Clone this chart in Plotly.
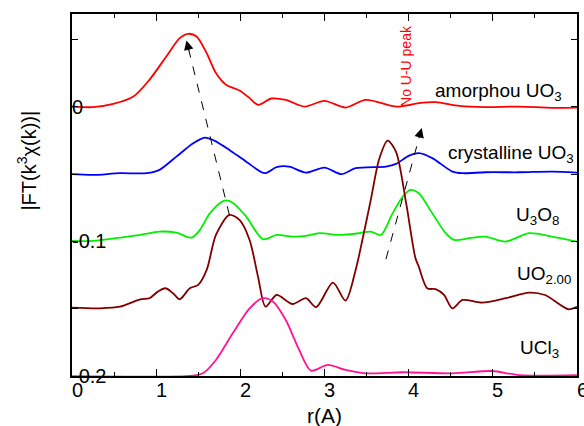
import plotly.graph_objects as go

# ---- data ----
r_amorph = [0.0, 0.25, 0.49, 0.73, 0.92, 1.12, 1.28, 1.38, 1.48, 1.60, 1.71, 1.83, 1.99, 2.11, 2.21,
            2.37, 2.54, 2.76, 3.00, 3.25, 3.49, 3.86, 4.12, 4.32, 4.60, 4.91, 5.31, 5.70, 6.0]
ft_amorph = [0.0002, -0.0002, 0.0022, 0.0077, 0.0201, 0.0374, 0.0511, 0.0543, 0.0523, 0.0399, 0.0251,
             0.0164, 0.0121, 0.0065, 0.0015, 0.0062, 0.0052, 0.0002, 0.0045, -0.0005, 0.0052, 0.0002,
             0.0028, 0.0035, 0.0007, -0.0002, 0.0002, -0.0007, -0.0005]

r_cryst = [0.0, 0.25, 0.57, 0.89, 1.04, 1.24, 1.44, 1.58, 1.69, 1.87, 2.07, 2.29, 2.43, 2.58, 2.78,
           3.00, 3.20, 3.37, 3.73, 3.85, 4.00, 4.12, 4.28, 4.52, 4.64, 4.91, 5.31, 5.70, 6.0]
ft_cryst = [-0.0500, -0.0506, -0.0493, -0.0493, -0.0468, -0.0370, -0.0270, -0.0228, -0.0251, -0.0320,
            -0.0407, -0.0493, -0.0448, -0.0444, -0.0488, -0.0451, -0.0500, -0.0456, -0.0444, -0.0424,
            -0.0364, -0.0344, -0.0381, -0.0481, -0.0493, -0.0486, -0.0486, -0.0481, -0.0488]

r_u3o8 = [0.0, 0.25, 0.57, 0.81, 1.04, 1.24, 1.42, 1.52, 1.64, 1.81, 1.91, 2.07, 2.27, 2.43, 2.62,
          2.78, 2.94, 3.18, 3.41, 3.55, 3.67, 3.81, 3.93, 4.02, 4.12, 4.28, 4.44, 4.54, 4.72, 4.91,
          5.15, 5.43, 5.70, 6.0]
ft_u3o8 = [-0.0996, -0.0996, -0.0972, -0.0952, -0.0927, -0.0935, -0.0972, -0.0914, -0.0790, -0.0697,
           -0.0712, -0.0816, -0.0984, -0.0952, -0.0964, -0.0959, -0.0939, -0.0952, -0.0939, -0.0927,
           -0.0952, -0.0790, -0.0667, -0.0617, -0.0642, -0.0790, -0.0939, -0.0989, -0.0976, -0.0964,
           -0.1001, -0.0939, -0.0964, -0.1001]

r_uo2 = [0.0, 0.33, 0.57, 0.81, 0.92, 1.02, 1.11, 1.20, 1.28, 1.40, 1.50, 1.60, 1.71, 1.87, 1.99,
         2.11, 2.21, 2.30, 2.43, 2.62, 2.78, 2.90, 3.10, 3.25, 3.37, 3.45, 3.55, 3.65, 3.75, 3.85,
         3.97, 4.08, 4.12, 4.22, 4.32, 4.42, 4.52, 4.64, 4.87, 5.15, 5.43, 5.62, 5.90, 6.0]
ft_uo2 = [-0.1492, -0.1497, -0.1485, -0.1430, -0.1422, -0.1373, -0.1348, -0.1385, -0.1430, -0.1348,
          -0.1323, -0.1212, -0.0952, -0.0803, -0.0840, -0.0989, -0.1262, -0.1485, -0.1398, -0.1465,
          -0.1422, -0.1489, -0.1306, -0.1440, -0.1212, -0.0989, -0.0691, -0.0387, -0.0251, -0.0335,
          -0.0716, -0.1123, -0.1187, -0.1348, -0.1355, -0.1398, -0.1497, -0.1435, -0.1455, -0.1422,
          -0.1380, -0.1398, -0.1504, -0.1485]

r_ucl3 = [0.0, 1.44, 1.56, 1.71, 1.91, 2.11, 2.27, 2.39, 2.54, 2.70, 2.84, 3.04, 3.25, 3.49, 3.93,
          4.52, 4.99, 5.31, 6.0]
ft_ucl3 = [-0.2002, -0.1997, -0.1978, -0.1881, -0.1683, -0.1497, -0.1422, -0.1448, -0.1584, -0.1807,
           -0.1960, -0.1918, -0.1955, -0.1980, -0.1972, -0.1980, -0.1963, -0.1993, -0.1993]

series_names = ["amorphou UO<sub>3</sub>", "crystalline UO<sub>3</sub>", "U<sub>3</sub>O<sub>8</sub>",
                "UO<sub>2.00</sub>", "UCl<sub>3</sub>"]
label_r = [4.29, 4.44, 5.25, 5.26, 5.30]
label_ft = [0.0108, -0.0353, -0.0810, -0.1253, -0.1799]

x_tick_vals = [0, 1, 2, 3, 4, 5, 6]
x_tick_text = ["0", "1", "2", "3", "4", "5", "6"]
y_tick_vals = [0, -0.1, -0.2]
y_tick_text = ["0", "-0.1", "-0.2"]

# arrows: (start r, start ft, tip r, tip ft)
arrow1 = (1.87, -0.0803, 1.36, 0.0493)
arrow2 = (3.73, -0.1132, 4.155, -0.0158)

colors = ["#ff0000", "#0000ff", "#00f000", "#800000", "#ff1493"]
xs = [r_amorph, r_cryst, r_u3o8, r_uo2, r_ucl3]
ys = [ft_amorph, ft_cryst, ft_u3o8, ft_uo2, ft_ucl3]

FONT = "Liberation Sans, Arial, sans-serif"

fig = go.Figure()
for x, y, c in zip(xs, ys, colors):
    fig.add_trace(go.Scatter(x=x, y=y, mode="lines",
                             line=dict(color=c, width=1.8, shape="spline", smoothing=0.8),
                             showlegend=False, hoverinfo="skip"))

annotations = []
for t, xr, yv in zip(series_names, label_r, label_ft):
    annotations.append(dict(x=xr, y=yv, xref="x", yref="y", text=t, showarrow=False,
                            xanchor="left", yanchor="middle",
                            font=dict(family=FONT, size=19, color="black")))
for v, t in zip(y_tick_vals, y_tick_text):
    annotations.append(dict(x=0, y=v, xref="paper", yref="y", text=t, showarrow=False,
                            xanchor="left", yanchor="middle", xshift=-2,
                            font=dict(family=FONT, size=20, color="black")))
for v, t in zip(x_tick_vals, x_tick_text):
    annotations.append(dict(x=v, y=0, xref="x", yref="paper", text=t, showarrow=False,
                            xanchor="center", yanchor="middle", xshift=5, yshift=-14,
                            font=dict(family=FONT, size=20, color="black")))

annotations.append(dict(x=3.96, y=0.0306, xref="x", yref="y", text="No U-U peak", showarrow=False,
                        textangle=-90, xanchor="center", yanchor="middle",
                        font=dict(family=FONT, size=14, color="#ff0000")))
annotations.append(dict(x=0, y=0.595, xref="paper", yref="paper", text="|FT(k<sup>3</sup>χ(k))|",
                        showarrow=False, textangle=-90, xshift=-45,
                        xanchor="center", yanchor="middle",
                        font=dict(family=FONT, size=20, color="black")))
annotations.append(dict(x=0.5, y=0, xref="paper", yref="paper", text="r(A)", showarrow=False,
                        yshift=-39, xanchor="center", yanchor="middle",
                        font=dict(family=FONT, size=21, color="black")))

shapes = []
for (r0, f0, r1, f1) in (arrow1, arrow2):
    shapes.append(dict(type="line", x0=r0, y0=f0, x1=r1, y1=f1, xref="x", yref="y",
                       line=dict(color="black", width=1, dash="dash")))

# arrow heads (short arrows at the tips, direction from pixel geometry)
px_per_r = 507 / 6.0
px_per_ft = 362 / 0.269
for (r0, f0, r1, f1) in (arrow1, arrow2):
    dx = (r1 - r0) * px_per_r
    dy = -(f1 - f0) * px_per_ft
    L = (dx * dx + dy * dy) ** 0.5
    k = 12 / L
    annotations.append(dict(x=r1, y=f1, xref="x", yref="y", ax=-dx * k, ay=-dy * k,
                            text="", showarrow=True, arrowhead=2, arrowsize=1.9,
                            arrowwidth=1, arrowcolor="black"))

fig.update_layout(
    width=584, height=426,
    margin=dict(l=72, r=5, t=14, b=50),
    plot_bgcolor="white", paper_bgcolor="white",
    font=dict(family=FONT, color="black"),
    annotations=annotations, shapes=shapes,
    xaxis=dict(range=[0, 6], showline=True, linecolor="black", linewidth=2, mirror="allticks",
               ticks="inside", ticklen=7, tickwidth=1, tickcolor="black", dtick=1, tick0=0,
               minor=dict(dtick=0.5, ticks="inside", ticklen=4, tickcolor="black"),
               showgrid=False, zeroline=False, showticklabels=False),
    yaxis=dict(range=[-0.2, 0.069], showline=True, linecolor="black", linewidth=2, mirror="allticks",
               ticks="inside", ticklen=6, tickwidth=1, tickcolor="black", dtick=0.05, tick0=0,
               showticklabels=False, showgrid=False, zeroline=False),
)

fig.write_html("out.html", config={"displayModeBar": False},
               post_script="document.body.style.margin='0';")
